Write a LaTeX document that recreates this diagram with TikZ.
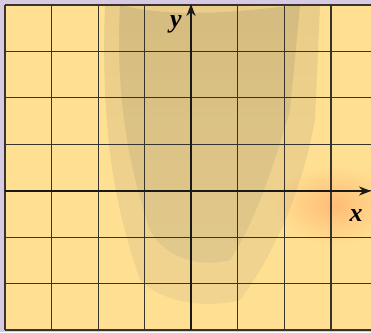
\documentclass[tikz,border=0pt]{standalone}
\usepackage{fontspec}
\setmainfont{Liberation Serif}
\usetikzlibrary{arrows.meta,fadings}
\tikzfading[name=softglow, inner color=transparent!0, outer color=transparent!100]
\definecolor{border}{RGB}{216,202,226}
\definecolor{paper}{RGB}{255,224,146}
\definecolor{gridc}{RGB}{55,52,48}
\definecolor{shade}{RGB}{180,150,95}
\definecolor{glow}{RGB}{255,165,100}
\tikzset{
  gridline/.style={draw=gridc, line width=1.1pt},
  axis/.style={draw=black!90, line width=2pt, -{Stealth[length=12pt,width=9pt]}},
  axislabel/.style={font=\bfseries\itshape\fontsize{26}{26}\selectfont, inner sep=0pt}
}
\begin{document}
\begin{tikzpicture}[x=1pt,y=-1pt]
\useasboundingbox (0,0) rectangle (371,332);
\fill[border] (0,0) rectangle (371,332);
\fill[paper] (5,5) rectangle (371,330);
% faint watermark
\begin{scope}
\clip (5,5) rectangle (371,330);
\fill[shade, opacity=0.06] (105,5) .. controls (150,0) and (250,10) .. (320,5)
  -- (315,120) .. controls (300,200) and (270,260) .. (240,300)
  .. controls (200,310) and (160,300) .. (140,280)
  .. controls (120,220) and (100,150) .. (105,5) -- cycle;
\fill[shade, opacity=0.06] (120,5) .. controls (180,20) and (250,10) .. (300,5)
  -- (290,110) .. controls (270,180) and (250,230) .. (230,260)
  .. controls (190,270) and (160,250) .. (150,230)
  .. controls (130,170) and (115,100) .. (120,5) -- cycle;
\fill[glow, opacity=0.6, path fading=softglow] (335,205) ellipse (60 and 40);
\end{scope}
% grid
\foreach \i in {0,...,8} {
  \draw[gridline] (5+46.57*\i,5) -- (5+46.57*\i,330);
}
\foreach \j in {0,...,7} {
  \draw[gridline] (5,5+46.43*\j) -- (371,5+46.43*\j);
}
% axes
\coordinate (xs) at (5,191);
\coordinate (xe) at (371,191);
\coordinate (ys) at (191,330);
\coordinate (ye) at (191,4);
\draw[axis] (xs) -- (xe);
\draw[axis] (ys) -- (ye);
\node[axislabel] (ylab) at (176,24) {y};
\node[axislabel] (xlab) at (356,216) {x};
\end{tikzpicture}
\end{document}
